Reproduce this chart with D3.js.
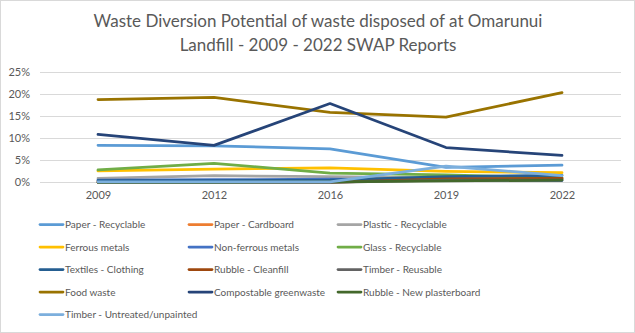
<!DOCTYPE html>
<html>
<head>
<meta charset="utf-8">
<script src="https://cdn.jsdelivr.net/npm/d3@7"></script>
<style>
  html, body { margin: 0; padding: 0; background: #fff; }
  svg { display: block; }
  text { font-family: Lato, "Open Sans", sans-serif; fill: #595959; }
</style>
</head>
<body>
<svg id="chart" width="635" height="333"></svg>
<script>
// Survey years
const years = ["2009", "2012", "2016", "2019", "2022"];

// Share of landfilled waste (%) that could be diverted, per material
const paperRecyclable   = [8.4, 8.3, 7.6, 3.4, 3.9];
const paperCardboard    = [0.2, 0.2, 0.3, 0.6, 0.7];
const plasticRecyclable = [0.9, 1.5, 1.3, 1.0, 0.9];
const ferrousMetals     = [2.6, 3.0, 3.3, 2.5, 2.2];
const nonFerrousMetals  = [0.5, 0.6, 0.7, 0.5, 0.4];
const glassRecyclable   = [2.8, 4.3, 2.1, 1.7, 1.0];
const textilesClothing  = [0.4, 0.4, 0.5, 1.3, 1.6];
const rubbleCleanfill   = [0.0, 0.0, 0.0, 0.8, 0.9];
const timberReusable    = [0.0, 0.0, 0.0, 0.5, 0.5];
const foodWaste         = [18.8, 19.3, 15.9, 14.8, 20.4];
const compostableGreen  = [10.9, 8.4, 17.9, 7.9, 6.1];
const rubblePlaster     = [0.0, 0.0, 0.1, 0.3, 0.5];
const timberUntreated   = [0.1, 0.1, 0.1, 3.7, 1.5];

const seriesNames = [
  "Paper - Recyclable", "Paper - Cardboard", "Plastic - Recyclable",
  "Ferrous metals", "Non-ferrous metals", "Glass - Recyclable",
  "Textiles - Clothing", "Rubble - Cleanfill", "Timber - Reusable",
  "Food waste", "Compostable greenwaste", "Rubble - New plasterboard",
  "Timber - Untreated/unpainted"
];
const seriesValues = [
  paperRecyclable, paperCardboard, plasticRecyclable, ferrousMetals,
  nonFerrousMetals, glassRecyclable, textilesClothing, rubbleCleanfill,
  timberReusable, foodWaste, compostableGreen, rubblePlaster, timberUntreated
];
const seriesColors = [
  "#5B9BD5", "#ED7D31", "#A5A5A5", "#FFC000", "#4472C4", "#70AD47",
  "#255E91", "#9E480E", "#636363", "#997300", "#264478", "#43682B", "#7CAFDD"
];

const yTicks = [0, 5, 10, 15, 20, 25];
const titleLines = [
  "Waste Diversion Potential of waste disposed of at Omarunui",
  "Landfill - 2009 - 2022 SWAP Reports"
];

const W = 635, H = 333;
const svg = d3.select("#chart");

// outer chart border
svg.append("rect")
  .attr("x", 0.5).attr("y", 0.5)
  .attr("width", W - 1).attr("height", H - 1)
  .attr("fill", "#fff").attr("stroke", "#D9D9D9");

// title
svg.append("g").selectAll("text")
  .data(titleLines).join("text")
  .attr("x", 318).attr("y", (d, i) => 27 + i * 23.5)
  .attr("text-anchor", "middle")
  .style("font-family", "Lato, sans-serif")
  .style("font-size", "17px")
  .text(d => d);

const x = d3.scalePoint().domain(years).range([98, 562]);
const y = d3.scaleLinear().domain([0, 25]).range([182.3, 72.3]);

// gridlines
svg.append("g").selectAll("line")
  .data(yTicks).join("line")
  .attr("x1", 40).attr("x2", 621)
  .attr("y1", d => Math.round(y(d)) + 0.5).attr("y2", d => Math.round(y(d)) + 0.5)
  .attr("stroke", "#D9D9D9").attr("stroke-width", 1);

// y axis labels
const yAxis = d3.axisLeft(y).tickValues(yTicks).tickSize(0).tickPadding(0)
  .tickFormat(d => d + "%");
svg.append("g")
  .attr("transform", "translate(30,0)")
  .call(yAxis)
  .call(g => g.select(".domain").remove())
  .call(g => g.selectAll("text")
    .style("font-family", "Lato, sans-serif")
    .style("font-size", "11px").attr("fill", "#595959"));

// x axis labels
const xAxis = d3.axisBottom(x).tickSize(0).tickPadding(0);
svg.append("g")
  .attr("transform", "translate(0,191)")
  .call(xAxis)
  .call(g => g.select(".domain").remove())
  .call(g => g.selectAll("text")
    .style("font-family", "Lato, sans-serif")
    .style("font-size", "11px").attr("fill", "#595959"));

// series lines
const line = d3.line()
  .x((d, i) => x(years[i]))
  .y(d => y(d));

svg.append("g").selectAll("path")
  .data(seriesValues).join("path")
  .attr("d", d => line(d))
  .attr("fill", "none")
  .attr("stroke", (d, i) => seriesColors[i])
  .attr("stroke-width", 2.75)
  .attr("stroke-linejoin", "round")
  .attr("stroke-linecap", "round");

// legend: 3 columns, filled row by row
const legend = svg.append("g");
const items = legend.selectAll("g")
  .data(seriesNames).join("g")
  .attr("transform", (d, i) => `translate(${40 + (i % 3) * 149},${224.5 + Math.floor(i / 3) * 22.5})`);
items.append("line")
  .attr("x1", 0).attr("x2", 23).attr("y1", 0).attr("y2", 0)
  .attr("stroke", (d, i) => seriesColors[i])
  .attr("stroke-width", 2.75).attr("stroke-linecap", "round");
items.append("text")
  .attr("x", 25).attr("y", 0).attr("dy", "0.35em")
  .style("font-family", "Lato, sans-serif")
  .style("font-size", "10px")
  .text(d => d);
</script>
</body>
</html>
